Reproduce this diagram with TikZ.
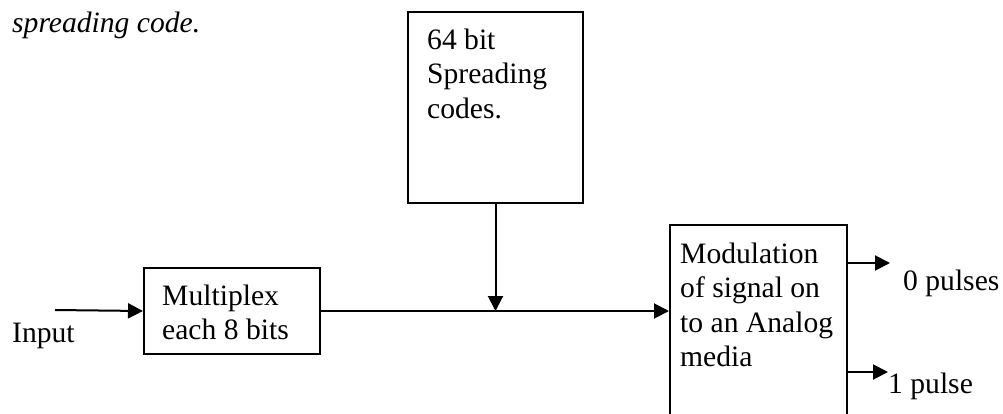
\documentclass[tikz,border=0pt]{standalone}
\usepackage{fontspec}
\setmainfont{Liberation Serif}
\usetikzlibrary{arrows.meta}
\begin{document}
\begin{tikzpicture}[x=1pt,y=-1pt,
  font=\fontsize{29.6}{34.5}\selectfont,
  box/.style={draw, line width=2pt, inner sep=0pt, anchor=north west},
  lbl/.style={anchor=base west, inner sep=0pt},
  arr/.style={line width=2pt, -{Triangle[length=15pt,width=15pt]}}]
\clip (0,0) rectangle (1003,413);
% boxes
\node[box, minimum width=175pt, minimum height=191pt] (codes) at (407,11) {};
\node[box, minimum width=176pt, minimum height=86pt] (mux) at (143,267) {};
\node[box, minimum width=177pt, minimum height=200pt] (mod) at (669,224) {};
% texts
\node[lbl] (title) at (12,32) {\itshape spreading code.};
\node[lbl] (codestxt) at (427,49) {\parbox[t]{150pt}{64 bit\\Spreading\\codes.}};
\node[lbl] (muxtxt) at (162,305) {\parbox[t]{150pt}{Multiplex\\each 8 bits}};
\node[lbl] (modtxt) at (680,263) {\parbox[t]{165pt}{Modulation\\of signal on\\to an Analog\\media}};
\node[lbl] (in) at (12,342) {Input};
\node[lbl] (p0) at (903,290) {0 pulses};
\node[lbl] (p1) at (888,393) {1 pulse};
% connector ends
\coordinate (inA) at (55,310);
\coordinate (o0) at (890,263);
\coordinate (o1) at (888,372);
% connectors
\draw[arr] (inA) -- (mux.west);
\draw[arr] (mux.east) -- (mux.east -| mod.west);
\draw[arr] (codes.south) -- (codes.south |- mux.east);
\draw[arr] (mod.east |- o0) -- (o0);
\draw[arr] (mod.east |- o1) -- (o1);
\end{tikzpicture}
\end{document}
